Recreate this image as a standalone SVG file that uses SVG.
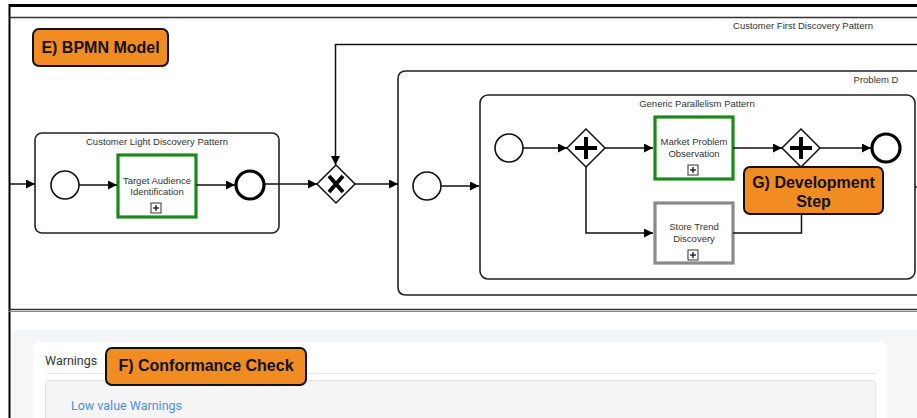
<svg xmlns="http://www.w3.org/2000/svg" width="917" height="418" viewBox="0 0 917 418">
  <defs>
    <marker id="arrow" viewBox="0 0 10 10" refX="10" refY="5" markerWidth="9" markerHeight="9" markerUnits="userSpaceOnUse" orient="auto">
      <path d="M0,0 L10,5 L0,10 Z" fill="#000"/>
    </marker>
  </defs>
  <style>
    .flow { fill: none; stroke: #111; stroke-width: 1.5; marker-end: url(#arrow); }
    .sub { fill: #fff; stroke: #222; stroke-width: 1.6; }
    .sublabel { font-family: "Liberation Sans", Arial, sans-serif; font-size: 9.5px; fill: #333; text-anchor: middle; }
    .tasklabel { font-family: "Liberation Sans", Arial, sans-serif; font-size: 9.5px; fill: #333; text-anchor: middle; }
    .start { fill: #fff; stroke: #111; stroke-width: 1.6; }
    .end { fill: #fff; stroke: #000; stroke-width: 3.2; }
    .gw { fill: #fff; stroke: #111; stroke-width: 1.5; }
    .mark { stroke: #000; stroke-width: 4; fill: none; }
    .green { fill: #fff; stroke: #1a8a1a; stroke-width: 3.2; }
    .grey { fill: #fff; stroke: #8a8a8a; stroke-width: 3.2; }
    .plusbox { fill: #fff; stroke: #333; stroke-width: 1; }
    .plus { stroke: #111; stroke-width: 1.3; }
    .tag { fill: #f08c22; stroke: #111; stroke-width: 2; }
    .tagtext { font-family: "Liberation Sans", Arial, sans-serif; font-size: 16px; font-weight: bold; fill: #111; text-anchor: middle; }
  </style>

  <!-- page background -->
  <rect x="0" y="0" width="917" height="418" fill="#fff"/>

  <!-- outer frame and Customer First Discovery Pattern container -->
  <g id="frame">
    <line x1="9" y1="5.5" x2="917" y2="5.5" stroke="#000" stroke-width="3"/>
    <line x1="9.5" y1="4" x2="9.5" y2="418" stroke="#000" stroke-width="2"/>
    <line x1="9" y1="17.5" x2="917" y2="17.5" stroke="#333" stroke-width="1.3"/>
    <line x1="9" y1="309.5" x2="917" y2="309.5" stroke="#333" stroke-width="1.3"/>
    <line x1="9" y1="311.5" x2="917" y2="311.5" stroke="#888" stroke-width="1"/>
  </g>
  <g id="customer-first-pattern">
    <text class="sublabel" x="803" y="29">Customer First Discovery Pattern</text>
  </g>

  <!-- Customer Light Discovery Pattern -->
  <g id="customer-light-pattern">
    <rect class="sub" x="35" y="133" width="244" height="100" rx="7"/>
    <text class="sublabel" x="157" y="145">Customer Light Discovery Pattern</text>
  </g>
  <g id="cl-start"><circle class="start" cx="65" cy="185" r="14"/></g>
  <g id="target-audience">
    <rect class="green" x="118" y="155" width="78" height="62"/>
    <text class="tasklabel" x="157" y="184">Target Audience</text>
    <text class="tasklabel" x="157" y="195">Identification</text>
    <rect class="plusbox" x="151" y="203" width="10" height="10"/>
    <line class="plus" x1="153" y1="208" x2="159" y2="208"/>
    <line class="plus" x1="156" y1="205" x2="156" y2="211"/>
  </g>
  <g id="cl-end"><circle class="end" cx="250" cy="185" r="14"/></g>

  <!-- exclusive gateway -->
  <g id="xor-gateway">
    <path class="gw" d="M336,165 L355,184 L336,203 L317,184 Z"/>
    <path class="mark" d="M329,176 L343,192 M343,176 L329,192" stroke-width="3.6"/>
  </g>

  <!-- Problem Discovery container -->
  <g id="problem-discovery">
    <path class="sub" d="M917,71 L406,71 Q398,71 398,79 L398,287 Q398,295 406,295 L917,295" stroke-width="2"/>
    <text class="sublabel" x="876" y="83" text-anchor="start" font-size="10">Problem D</text>
  </g>
  <g id="pd-start"><circle class="start" cx="427" cy="186" r="14"/></g>

  <!-- Generic Parallelism Pattern -->
  <g id="generic-parallelism">
    <rect class="sub" x="480" y="95" width="435" height="184" rx="8"/>
    <text class="sublabel" x="697" y="107">Generic Parallelism Pattern</text>
  </g>
  <g id="gp-start"><circle class="start" cx="509" cy="148" r="14"/></g>
  <g id="and-split">
    <path class="gw" d="M586,129 L605,148 L586,167 L567,148 Z"/>
    <path class="mark" d="M586,137 L586,159 M575,148 L597,148"/>
  </g>
  <g id="market-problem">
    <rect class="green" x="655" y="117" width="78" height="62"/>
    <text class="tasklabel" x="694" y="145">Market Problem</text>
    <text class="tasklabel" x="694" y="157">Observation</text>
    <rect class="plusbox" x="688" y="165" width="10" height="10"/>
    <line class="plus" x1="690" y1="170" x2="696" y2="170"/>
    <line class="plus" x1="693" y1="167" x2="693" y2="173"/>
  </g>
  <g id="store-trend">
    <rect class="grey" x="655" y="203" width="78" height="60"/>
    <text class="tasklabel" x="694" y="230">Store Trend</text>
    <text class="tasklabel" x="694" y="242">Discovery</text>
    <rect class="plusbox" x="688" y="250" width="10" height="10"/>
    <line class="plus" x1="690" y1="255" x2="696" y2="255"/>
    <line class="plus" x1="693" y1="252" x2="693" y2="258"/>
  </g>
  <g id="and-join">
    <path class="gw" d="M801,129 L820,148 L801,167 L782,148 Z"/>
    <path class="mark" d="M801,137 L801,159 M790,148 L812,148"/>
  </g>
  <g id="gp-end"><circle class="end" cx="886" cy="148" r="14"/></g>

  <!-- sequence flows -->
  <g id="connectors">
    <line class="flow" x1="10" y1="184" x2="35" y2="184"/>
    <line class="flow" x1="79" y1="185" x2="117" y2="185"/>
    <line class="flow" x1="196" y1="185" x2="235" y2="185"/>
    <line class="flow" x1="264" y1="184" x2="317" y2="184"/>
    <polyline class="flow" points="917,44.5 335.5,44.5 335.5,165"/>
    <line class="flow" x1="355" y1="184" x2="398" y2="184"/>
    <line class="flow" x1="441" y1="186" x2="479" y2="186"/>
    <line class="flow" x1="523" y1="148" x2="567" y2="148"/>
    <line class="flow" x1="605" y1="148" x2="653" y2="148"/>
    <polyline class="flow" points="586,167 586,233 653,233"/>
    <line class="flow" x1="733" y1="148" x2="782" y2="148"/>
    <polyline class="flow" points="733,233 801.5,233 801.5,168"/>
    <line class="flow" x1="820" y1="148" x2="871" y2="148"/>
    <line x1="915" y1="187" x2="917" y2="187" stroke="#111" stroke-width="1.5"/>
  </g>

  <!-- conformance check panel -->
  <g id="conformance-panel">
    <rect x="11" y="330" width="906" height="88" fill="#f5f6f8"/>
    <rect x="33" y="342" width="854" height="90" rx="4" fill="#fff"/>
    <text x="45" y="365" font-family="Roboto, 'Liberation Sans', sans-serif" font-size="12.5" fill="#333">Warnings</text>
    <line x1="45" y1="373.5" x2="876" y2="373.5" stroke="#e8e8e8" stroke-width="1"/>
    <rect x="45.5" y="380.5" width="830" height="50" rx="3" fill="#f5f5f5" stroke="#e3e3e3"/>
    <text x="71" y="410" font-family="Roboto, 'Liberation Sans', sans-serif" font-size="12.5" fill="#4a90e2">Low value Warnings</text>
  </g>

  <!-- annotation tags -->
  <g id="tag-e">
    <rect class="tag" x="33" y="29" width="135" height="37" rx="6"/>
    <text class="tagtext" x="100.5" y="53">E) BPMN Model</text>
  </g>
  <g id="tag-g">
    <rect class="tag" x="744" y="167" width="139" height="47" rx="6"/>
    <text class="tagtext" x="813.5" y="188">G) Development</text>
    <text class="tagtext" x="813.5" y="207">Step</text>
  </g>
  <g id="tag-f">
    <rect class="tag" x="106" y="348" width="200" height="37" rx="6"/>
    <text class="tagtext" x="206" y="371">F) Conformance Check</text>
  </g>
</svg>
